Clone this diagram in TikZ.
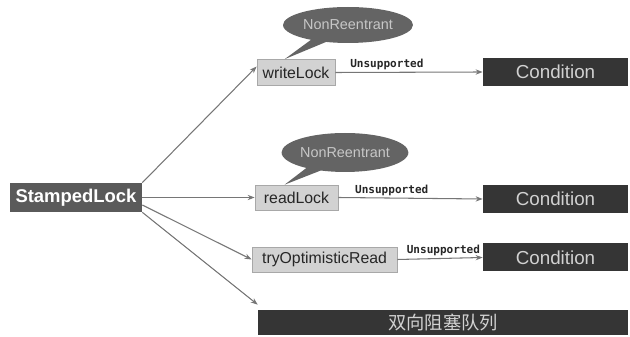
\documentclass[tikz,border=0pt]{standalone}
\usepackage{fontspec}
\setmainfont{Liberation Sans}
\newfontfamily\monofont{DejaVu Sans Mono}
\newfontfamily\cjk{Noto Sans CJK SC}
\usepackage{xcolor}
\usepackage{tikz}
\usetikzlibrary{shapes.callouts,arrows.meta}

\definecolor{lockfill}{HTML}{D2D2D2}
\definecolor{lockline}{HTML}{A8A8A8}
\definecolor{darkbox}{HTML}{353535}
\definecolor{rootbox}{HTML}{5A5A5A}
\definecolor{bubble}{HTML}{646464}
\definecolor{arrowgray}{HTML}{767676}

\begin{document}
\begin{tikzpicture}[x=0.02cm, y=-0.02cm,
    lockbox/.style={draw=lockline, fill=lockfill, inner sep=0pt, text=black!85,
      font=\fontsize{9}{10}\selectfont, minimum height=0.52cm},
    condbox/.style={fill=darkbox, inner sep=0pt, text=black!18,
      font=\fontsize{10.7}{12}\selectfont, minimum width=2.9cm, minimum height=0.56cm},
    bubblenote/.style={ellipse callout, fill=bubble, inner sep=0pt, text=black!22,
      font=\fontsize{8.2}{9}\selectfont},
    link/.style={draw=arrowgray, line width=0.6pt, -{Stealth[length=4pt,width=3pt]}},
    nolabel/.style={above, inner sep=1pt, text=black!85,
      font=\monofont\bfseries\fontsize{6.3}{7}\selectfont}]
    \useasboundingbox (0,0) rectangle (630,337);

    % Root
    \node[fill=rootbox, text=white, inner sep=0pt, minimum width=2.64cm, minimum height=0.58cm,
      font=\bfseries\fontsize{10.5}{12}\selectfont] (sl) at (76,197.5) {StampedLock};

    % Locks
    \node[lockbox, minimum width=1.56cm] (wl) at (296,72.5) {writeLock};
    \node[lockbox, minimum width=1.66cm, minimum height=0.5cm] (rl) at (296.5,197.5) {readLock};
    \node[lockbox, minimum width=2.9cm, minimum height=0.5cm] (tr) at (324.5,259.5) {tryOptimisticRead};

    % Conditions
    \node[condbox] (c1) at (555.5,72) {Condition};
    \node[condbox] (c2) at (555.5,199) {Condition};
    \node[condbox] (c3) at (555.5,257.5) {Condition};

    % Queue
    \node[fill=darkbox, text=black!18, inner sep=0pt, minimum width=7.4cm, minimum height=0.5cm,
      font=\cjk\fontsize{10.4}{12}\selectfont] (q) at (443,322.5) {双向阻塞队列};

    % Notes
    \node[bubblenote, minimum width=2.6cm, minimum height=0.72cm,
      callout absolute pointer={([xshift=0.56cm]wl.north west)}] (nr1) at (348,25) {NonReentrant};
    \node[bubblenote, minimum width=2.48cm, minimum height=0.78cm,
      callout absolute pointer={([xshift=0.6cm]rl.north west)}] (nr2) at (345,152.5) {NonReentrant};

    % Connections
    \draw[link] (sl.north east) -- ([yshift=0.12cm]wl.west);
    \draw[link] (sl.east) -- (rl.west);
    \draw[link] ([yshift=-0.15cm]sl.east) -- (tr.west);
    \draw[link] (sl.south east) -- ([yshift=0.1cm]q.north west);
    \draw[link] (wl.east) -- node[nolabel, pos=0.35] {Unsupported} (c1.west);
    \draw[link] (rl.east) -- node[nolabel, pos=0.37] {Unsupported} (c2.west);
    \draw[link] (tr.east) -- node[nolabel, pos=0.54] {Unsupported} (c3.west);
\end{tikzpicture}
\end{document}
